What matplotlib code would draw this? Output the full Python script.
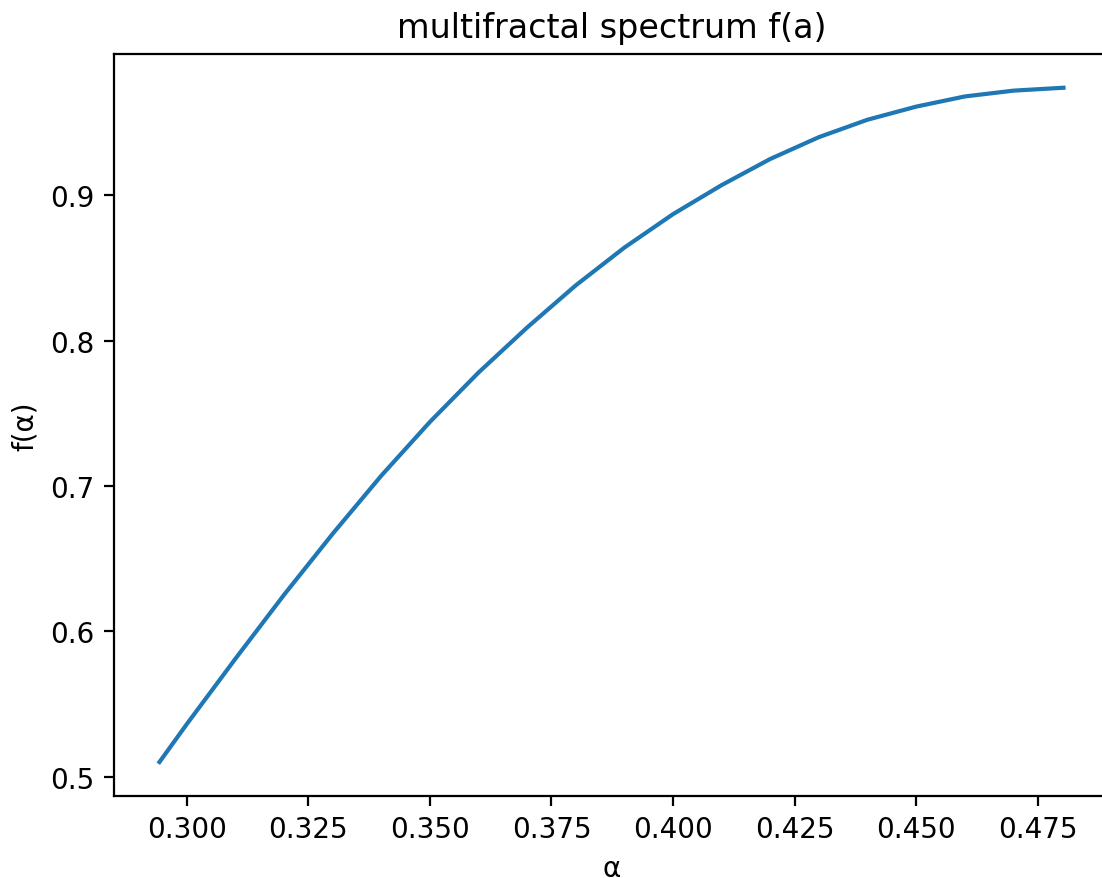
import matplotlib
matplotlib.use('Agg')
import matplotlib.pyplot as plt

# values
alpha = [0.2944, 0.300, 0.310, 0.320, 0.330, 0.340, 0.350, 0.360, 0.370,
         0.380, 0.390, 0.400, 0.410, 0.420, 0.430, 0.440, 0.450, 0.460,
         0.470, 0.4803]
f_alpha = [0.510, 0.536, 0.581, 0.625, 0.667, 0.707, 0.744, 0.778, 0.809,
           0.838, 0.864, 0.887, 0.907, 0.925, 0.940, 0.952, 0.961, 0.968,
           0.972, 0.974]

fig = plt.figure(figsize=(5.51, 4.395), dpi=200)
# right edge of the axes runs just past the picture, as in the reference crop
ax = fig.add_axes([0.1037, 0.0936, 0.9024, 0.8438])
ax.plot(alpha, f_alpha)
ax.set_title('multifractal spectrum f(a)')
ax.set_xlabel('α')
ax.set_ylabel('f(α)')

fig.savefig('out.png', dpi=200)
